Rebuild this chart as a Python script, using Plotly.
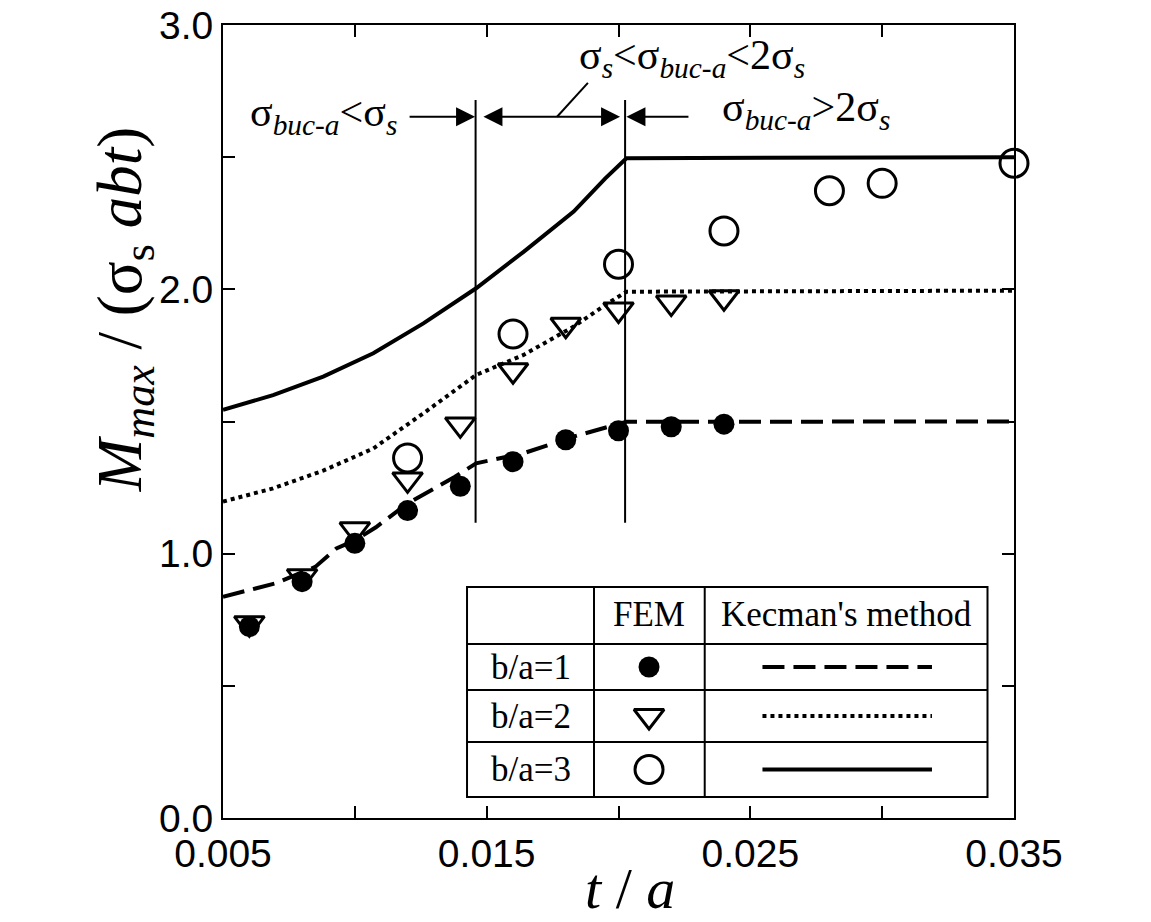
import plotly.graph_objects as go

# ---------------- data ----------------
# Kecman's method curves
kx1 = [0.005, 0.0070, 0.0085, 0.0093, 0.0100, 0.0108, 0.0120, 0.0138, 0.0146, 0.0164, 0.0183, 0.0203, 0.035]
ky1 = [0.837, 0.888, 0.950, 1.020, 1.050, 1.100, 1.190, 1.291, 1.342, 1.380, 1.443, 1.499, 1.500]
kx2 = [0.005, 0.0069, 0.0088, 0.0107, 0.0126, 0.0146, 0.0164, 0.0183, 0.0195, 0.0203, 0.035]
ky2 = [1.197, 1.247, 1.314, 1.398, 1.531, 1.676, 1.752, 1.859, 1.941, 1.991, 1.995]
kx3 = [0.005, 0.0069, 0.0088, 0.0107, 0.0126, 0.0146, 0.0164, 0.0183, 0.0195, 0.0203, 0.035]
ky3 = [1.544, 1.600, 1.670, 1.758, 1.871, 2.004, 2.142, 2.294, 2.420, 2.496, 2.500]

# FEM results
fx12 = [0.006, 0.008, 0.010, 0.012, 0.014, 0.016, 0.018, 0.020, 0.022, 0.024]
fy1 = [0.724, 0.894, 1.039, 1.163, 1.255, 1.348, 1.431, 1.465, 1.480, 1.490]
fy2 = [0.737, 0.915, 1.092, 1.281, 1.489, 1.694, 1.866, 1.924, 1.950, 1.970]
fx3 = [0.012, 0.016, 0.020, 0.024, 0.028, 0.030, 0.035]
fy3 = [1.362, 1.831, 2.095, 2.221, 2.373, 2.401, 2.477]

# axis ticks
xtick_vals = [0.005, 0.010, 0.015, 0.020, 0.025, 0.030, 0.035]
xtick_text = ["0.005", "", "0.015", "", "0.025", "", "0.035"]
ytick_vals = [0.0, 0.5, 1.0, 1.5, 2.0, 2.5, 3.0]
ytick_text = ["0.0", "", "1.0", "", "2.0", "", "3.0"]

# regime boundaries
boundary_x = [0.01458, 0.02025]
boundary_y = [1.117, 2.716]

# legend table texts
row_labels = ["b/a=1", "b/a=2", "b/a=3"]
col_labels = ["FEM", "Kecman's method"]

# ---------------- styles ----------------
SERIF = "Liberation Serif"
SANS = "Liberation Sans"
BLACK = "black"

fig = go.Figure()

line_styles = [dict(width=4, dash="22px,9px"), dict(width=4, dash="4px,4px"), dict(width=4)]
for kx, ky, ls in [(kx1, ky1, line_styles[0]), (kx2, ky2, line_styles[1]), (kx3, ky3, line_styles[2])]:
    fig.add_trace(go.Scatter(x=kx, y=ky, mode="lines", line=dict(color=BLACK, **ls),
                             showlegend=False, hoverinfo="skip"))

m_filled = dict(symbol="circle", size=21, color=BLACK)
m_tri = dict(symbol="triangle-down-open", size=26, color=BLACK, line=dict(width=3, color=BLACK))
m_open = dict(symbol="circle-open", size=28, color=BLACK, line=dict(width=3, color=BLACK))

fig.add_trace(go.Scatter(x=fx12, y=fy2, mode="markers", marker=m_tri, cliponaxis=False, showlegend=False))
fig.add_trace(go.Scatter(x=fx12, y=fy1, mode="markers", marker=m_filled, cliponaxis=False, showlegend=False))
fig.add_trace(go.Scatter(x=fx3, y=fy3, mode="markers", marker=m_open, cliponaxis=False, showlegend=False))

# ---------------- legend table (overlay axes 0..1 = plot area) ----------------
tab_x = [0.3085, 0.469, 0.609, 0.9665]
tab_y = [0.0265, 0.0958, 0.1614, 0.2194, 0.2913]
row_cy = [0.1904, 0.1286, 0.0612]
head_cy = 0.2560
sym_x = 0.5386
seg_x = [0.682, 0.8963]

shapes = []
shapes.append(dict(type="rect", xref="paper", yref="paper", x0=tab_x[0], x1=tab_x[3], y0=tab_y[0], y1=tab_y[4],
                   line=dict(color=BLACK, width=2), fillcolor="white", layer="below"))
for xv in tab_x[1:3]:
    shapes.append(dict(type="line", xref="paper", yref="paper", x0=xv, x1=xv, y0=tab_y[0], y1=tab_y[4],
                       line=dict(color=BLACK, width=2)))
for yv in tab_y[1:4]:
    shapes.append(dict(type="line", xref="paper", yref="paper", x0=tab_x[0], x1=tab_x[3], y0=yv, y1=yv,
                       line=dict(color=BLACK, width=2)))

for i, (mk, ls) in enumerate([(m_filled, line_styles[0]), (m_tri, line_styles[1]), (m_open, line_styles[2])]):
    fig.add_trace(go.Scatter(x=[sym_x], y=[row_cy[i]], mode="markers", marker=mk, xaxis="x2", yaxis="y2",
                             showlegend=False, hoverinfo="skip"))
    fig.add_trace(go.Scatter(x=seg_x, y=[row_cy[i], row_cy[i]], mode="lines", line=dict(color=BLACK, **ls),
                             xaxis="x2", yaxis="y2", showlegend=False, hoverinfo="skip"))

annotations = []
tfont = dict(family=SERIF, size=35, color=BLACK)
annotations.append(dict(x=(tab_x[1] + tab_x[2]) / 2, y=head_cy, xref="paper", yref="paper", text=col_labels[0],
                        showarrow=False, font=tfont, xanchor="center", yanchor="middle"))
annotations.append(dict(x=(tab_x[2] + tab_x[3]) / 2, y=head_cy, xref="paper", yref="paper", text=col_labels[1],
                        showarrow=False, font=tfont, xanchor="center", yanchor="middle"))
for i, lab in enumerate(row_labels):
    annotations.append(dict(x=(tab_x[0] + tab_x[1]) / 2, y=row_cy[i], xref="paper", yref="paper", text=lab,
                            showarrow=False, font=tfont, xanchor="center", yanchor="middle"))

# ---------------- regime boundaries and labels ----------------
for bx in boundary_x:
    shapes.append(dict(type="line", xref="x", yref="y", x0=bx, x1=bx, y0=boundary_y[0], y1=boundary_y[1],
                       line=dict(color=BLACK, width=2)))

arrow_y = 2.653
# leader line for middle label
shapes.append(dict(type="line", xref="x", yref="y", x0=0.01884, y0=2.781, x1=0.01767, y1=arrow_y,
                   line=dict(color=BLACK, width=2)))

arrow_common = dict(xref="x", yref="y", axref="x", ayref="y", text="", showarrow=True,
                    arrowhead=2, arrowsize=1.9, arrowwidth=2, arrowcolor=BLACK, standoff=0, startstandoff=0)
annotations.append(dict(x=0.01456, y=arrow_y, ax=0.01202, ay=arrow_y, **arrow_common))
annotations.append(dict(x=0.02006, y=arrow_y, ax=0.01482, ay=arrow_y, arrowside="end+start",
                        startarrowhead=2, startarrowsize=1.9, **arrow_common))
annotations.append(dict(x=0.0203, y=arrow_y, ax=0.02271, ay=arrow_y, **arrow_common))

rfont = dict(family=SERIF, size=42, color=BLACK)
annotations.append(dict(x=0.00881, y=2.66, xref="x", yref="y", showarrow=False, font=rfont,
                        text="σ<sub><i>buc-a</i></sub>&lt;σ<sub><i>s</i></sub>", xanchor="center", yanchor="middle"))
annotations.append(dict(x=0.02277, y=2.875, xref="x", yref="y", showarrow=False, font=rfont,
                        text="σ<sub><i>s</i></sub>&lt;σ<sub><i>buc-a</i></sub>&lt;2σ<sub><i>s</i></sub>",
                        xanchor="center", yanchor="middle"))
annotations.append(dict(x=0.02713, y=2.678, xref="x", yref="y", showarrow=False, font=rfont,
                        text="σ<sub><i>buc-a</i></sub>&gt;2σ<sub><i>s</i></sub>", xanchor="center", yanchor="middle"))

# axis titles placed as annotations to match the reference's positions
annotations.append(dict(x=-0.1250, y=0.6406, xref="paper", yref="paper", showarrow=False, textangle=-90,
                        text="<i>M</i><sub><i>max</i></sub> / (σ<sub>s</sub> <i>abt</i>)",
                        font=dict(family=SERIF, size=63, color=BLACK), xanchor="center", yanchor="middle"))
annotations.append(dict(x=0.5145, y=-0.0895, xref="paper", yref="paper", showarrow=False,
                        text="<i>t</i> / <i>a</i>",
                        font=dict(family=SERIF, size=58, color=BLACK), xanchor="center", yanchor="middle"))

axis_common = dict(showline=True, linewidth=2, linecolor=BLACK, mirror="ticks", ticks="inside",
                   ticklen=12, tickwidth=2, tickcolor=BLACK, showgrid=False, zeroline=False,
                   automargin=False, tickfont=dict(family=SANS, size=39, color=BLACK))

fig.update_layout(
    width=1151, height=922,
    margin=dict(l=223, r=137, t=25, b=104, autoexpand=False),
    paper_bgcolor="white", plot_bgcolor="white",
    xaxis=dict(range=[0.005, 0.035], tickmode="array", tickvals=xtick_vals, ticktext=xtick_text, **axis_common),
    yaxis=dict(range=[0, 3], tickmode="array", tickvals=ytick_vals, ticktext=ytick_text, **axis_common),
    xaxis2=dict(range=[0, 1], overlaying="x", visible=False, anchor="y2", automargin=False),
    yaxis2=dict(range=[0, 1], overlaying="y", visible=False, anchor="x2", automargin=False),
    shapes=shapes,
    annotations=annotations,
)

fig.write_html("out.html")
